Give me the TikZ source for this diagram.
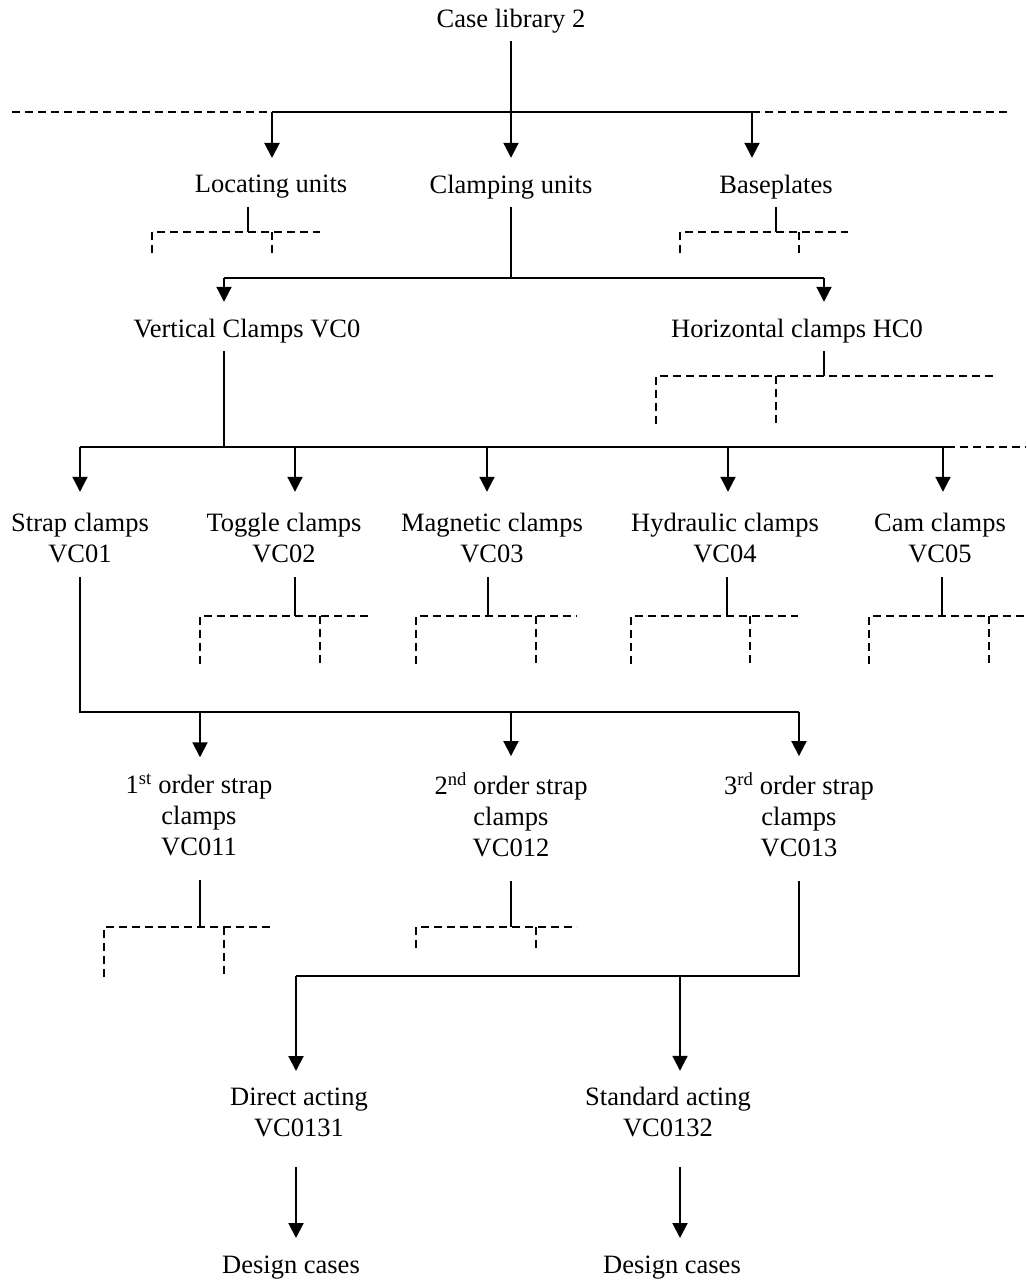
\documentclass[tikz,border=0pt]{standalone}
\usepackage{fontspec}
\setmainfont{Liberation Serif}
\usetikzlibrary{arrows.meta}
% strut: 18pt above the baseline, 6pt below
\newcommand\tstrut{\rule[-6pt]{0pt}{24pt}}
\begin{document}
\begin{tikzpicture}[x=1pt,y=-1pt,
  lbl/.style={inner sep=0pt,outer sep=0pt,align=center,
    font=\fontsize{26.5}{31}\selectfont},
  solidline/.style={line width=2pt},
  dashline/.style={line width=2pt,dash pattern=on 8pt off 5pt},
  arr/.style={line width=2pt,-{Triangle[length=15pt,width=15pt]}}]
\useasboundingbox (0,0) rectangle (1026,1281);

% ---------- labels ----------
\node[lbl] (root)   at (511,21)     {\tstrut Case library 2};
\node[lbl] (loc)    at (271,187)    {\tstrut Locating units};
\node[lbl] (clu)    at (511,187)    {\tstrut Clamping units};
\node[lbl] (base)   at (776,187)    {\tstrut Baseplates};
\node[lbl] (vc0)    at (247,331)    {\tstrut Vertical Clamps VC0};
\node[lbl] (hc0)    at (797,331)    {\tstrut Horizontal clamps HC0};
\node[lbl] (strap)  at (80,540.5)   {\tstrut Strap clamps\\VC01\tstrut};
\node[lbl] (toggle) at (284,540.5)  {\tstrut Toggle clamps\\VC02\tstrut};
\node[lbl] (magn)   at (492,540.5)  {\tstrut Magnetic clamps\\VC03\tstrut};
\node[lbl] (hydr)   at (725,540.5)  {\tstrut Hydraulic clamps\\VC04\tstrut};
\node[lbl] (cam)    at (940,540.5)  {\tstrut Cam clamps\\VC05\tstrut};
\node[lbl] (ordA)   at (199,818)    {\tstrut 1\textsuperscript{st} order strap\\clamps\\VC011\tstrut};
\node[lbl] (ordB)   at (511,818)    {\tstrut 2\textsuperscript{nd} order strap\\clamps\\VC012\tstrut};
\node[lbl] (ordC)   at (799,818)    {\tstrut 3\textsuperscript{rd} order strap\\clamps\\VC013\tstrut};
\node[lbl] (direct) at (299,1114.5) {\tstrut Direct acting\\VC0131\tstrut};
\node[lbl] (stand)  at (668,1114.5) {\tstrut Standard acting\\VC0132\tstrut};
\node[lbl] (dcA)    at (291,1267)   {\tstrut Design cases};
\node[lbl] (dcB)    at (672,1267)   {\tstrut Design cases};

% ---------- junction points ----------
\coordinate (t0)  at (511,112);
\coordinate (b0l) at (272,112);
\coordinate (b0r) at (752,112);
\coordinate (t1)  at (511,278);
\coordinate (b1l) at (224,278);
\coordinate (b1r) at (824,278);
\coordinate (t2)  at (224,447);
\coordinate (b2a) at (80,447);
\coordinate (b2b) at (295,447);
\coordinate (b2c) at (487,447);
\coordinate (b2d) at (728,447);
\coordinate (b2e) at (943,447);
\coordinate (b2z) at (947,447);
\coordinate (t3)  at (80,712);
\coordinate (b3a) at (200,712);
\coordinate (b3b) at (511,712);
\coordinate (b3c) at (799,712);
\coordinate (t4)  at (799,976);
\coordinate (b4a) at (296,976);
\coordinate (b4b) at (680,976);

% ---------- case library ----------
\draw[solidline,shorten <=8pt] (root.south) -- (t0);
\draw[dashline] (12,112) -- (b0l);
\draw[solidline] (b0l) -- (b0r);
\draw[dashline] (b0r) -- (1011,112);
\draw[arr,shorten >=17pt] (b0l) -- (b0l |- loc.north);
\draw[arr,shorten >=17pt] (t0) -- (clu.north);
\draw[arr,shorten >=17pt] (b0r) -- (b0r |- base.north);

% locating units (collapsed)
\coordinate (sLoc) at (248,232);
\draw[solidline,shorten <=8pt] (loc.south -| sLoc) -- (sLoc);
\draw[dashline] (152,253) -- (152,232) -- (320,232);
\draw[dashline] (272,232) -- (272,253);

% baseplates (collapsed)
\coordinate (sBase) at (776,232);
\draw[solidline,shorten <=8pt] (base.south) -- (sBase);
\draw[dashline] (680,253) -- (680,232) -- (848,232);
\draw[dashline] (799,232) -- (799,253);

% ---------- clamping units ----------
\draw[solidline,shorten <=8pt] (clu.south) -- (t1);
\draw[solidline] (b1l) -- (b1r);
\draw[arr,shorten >=17pt] (b1l) -- (b1l |- vc0.north);
\draw[arr,shorten >=17pt] (b1r) -- (b1r |- hc0.north);

% horizontal clamps (collapsed)
\coordinate (sHc) at (824,376);
\draw[solidline,shorten <=8pt] (hc0.south -| sHc) -- (sHc);
\draw[dashline] (656,424) -- (656,376) -- (993,376);
\draw[dashline] (776,376) -- (776,424);

% ---------- vertical clamps ----------
\draw[solidline,shorten <=8pt] (vc0.south -| t2) -- (t2);
\draw[solidline] (b2a) -- (b2z);
\draw[dashline] (b2z) -- (1026,447);
\draw[arr,shorten >=21pt] (b2a) -- (b2a |- strap.north);
\draw[arr,shorten >=21pt] (b2b) -- (b2b |- toggle.north);
\draw[arr,shorten >=21pt] (b2c) -- (b2c |- magn.north);
\draw[arr,shorten >=21pt] (b2d) -- (b2d |- hydr.north);
\draw[arr,shorten >=21pt] (b2e) -- (b2e |- cam.north);

% toggle clamps (collapsed)
\coordinate (sTog) at (295,616);
\draw[solidline,shorten <=9pt] (toggle.south -| sTog) -- (sTog);
\draw[dashline] (200,664) -- (200,616) -- (368,616);
\draw[dashline] (320,616) -- (320,664);

% magnetic clamps (collapsed)
\coordinate (sMag) at (488,616);
\draw[solidline,shorten <=9pt] (magn.south -| sMag) -- (sMag);
\draw[dashline] (416,664) -- (416,616) -- (577,616);
\draw[dashline] (536,616) -- (536,664);

% hydraulic clamps (collapsed)
\coordinate (sHyd) at (727,616);
\draw[solidline,shorten <=9pt] (hydr.south -| sHyd) -- (sHyd);
\draw[dashline] (631,664) -- (631,616) -- (798,616);
\draw[dashline] (750,616) -- (750,664);

% cam clamps (collapsed)
\coordinate (sCam) at (942,616);
\draw[solidline,shorten <=9pt] (cam.south -| sCam) -- (sCam);
\draw[dashline] (869,664) -- (869,616) -- (1026,616);
\draw[dashline] (989,616) -- (989,664);

% ---------- strap clamps ----------
\draw[solidline,shorten <=9pt] (strap.south) -- (t3) -- (b3c);
\draw[arr,shorten >=17pt] (b3a) -- (b3a |- ordA.north);
\draw[arr,shorten >=17pt] (b3b) -- (ordB.north);
\draw[arr,shorten >=17pt] (b3c) -- (ordC.north);

% 1st order (collapsed)
\coordinate (sOa) at (200,927);
\draw[solidline,shorten <=18pt] (ordA.south -| sOa) -- (sOa);
\draw[dashline] (104,977) -- (104,927) -- (273,927);
\draw[dashline] (224,927) -- (224,977);

% 2nd order (collapsed)
\coordinate (sOb) at (511,927);
\draw[solidline,shorten <=18pt] (ordB.south) -- (sOb);
\draw[dashline] (416,948) -- (416,927) -- (577,927);
\draw[dashline] (536,927) -- (536,948);

% ---------- 3rd order strap clamps ----------
\draw[solidline,shorten <=18pt] (ordC.south) -- (t4) -- (b4a);
\draw[arr,shorten >=16pt] (b4a) -- (b4a |- direct.north);
\draw[arr,shorten >=16pt] (b4b) -- (b4b |- stand.north);
\draw[arr,shorten <=25pt,shorten >=17pt] (direct.south -| b4a) -- (dcA.north -| b4a);
\draw[arr,shorten <=25pt,shorten >=17pt] (stand.south -| b4b) -- (dcB.north -| b4b);
\end{tikzpicture}
\end{document}
